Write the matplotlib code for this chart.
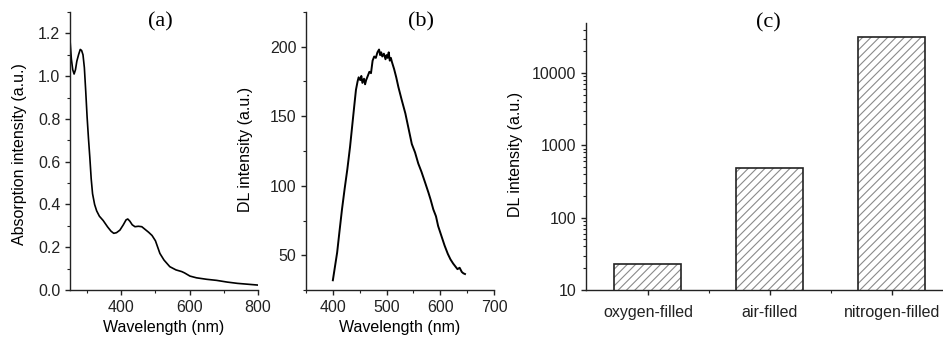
import numpy as np
import matplotlib
matplotlib.use("Agg")
import matplotlib.pyplot as plt
from matplotlib.ticker import MultipleLocator, LogLocator, FixedLocator, NullFormatter

plt.rcParams['font.family'] = ['Liberation Sans', 'DejaVu Sans']
plt.rcParams['hatch.linewidth'] = 0.8

# (a) absorption spectrum
abs_wl = [250, 254, 258, 262, 266, 270, 275, 280, 284, 288, 292, 296, 300, 304, 308,
          312, 316, 322, 328, 336, 347, 360, 370, 378, 386, 396, 406, 414, 419, 425,
          432, 440, 450, 460, 470, 480, 490, 500, 513, 525, 542, 560, 577, 585, 601,
          620, 650, 679, 710, 740, 770, 800]
abs_val = [1.17, 1.08, 1.03, 1.01, 1.03, 1.07, 1.10, 1.125, 1.12, 1.10, 1.04, 0.93, 0.81, 0.71, 0.62,
           0.52, 0.45, 0.40, 0.37, 0.345, 0.325, 0.295, 0.275, 0.265, 0.268, 0.28, 0.305, 0.328, 0.332, 0.322,
           0.305, 0.296, 0.298, 0.296, 0.283, 0.27, 0.255, 0.23, 0.171, 0.14, 0.109, 0.094, 0.086, 0.08, 0.065,
           0.057, 0.05, 0.045, 0.037, 0.031, 0.027, 0.023]

# (b) DL spectrum
dl_wl = [400, 404, 408, 412, 417, 422, 427, 432, 436, 440, 443, 446, 448, 451, 453, 455, 458, 460, 462,
         465, 468, 471, 474, 477, 480, 483, 486, 488, 490, 492, 495, 498, 500, 502, 504, 506, 508, 510,
         514, 518, 522, 528, 535, 541, 547, 553, 559, 565, 572, 578, 582, 587, 592, 596, 602, 608, 614,
         619, 624, 628, 632, 636, 640, 643, 646]
dl_val = [32, 42, 52, 66, 83, 98, 112, 128, 143, 158, 169, 175, 178, 176, 179, 174, 177, 173, 176,
          179, 182, 181, 190, 193, 192, 196, 198, 194, 196, 193, 195, 191, 194, 192, 196, 190, 192, 189,
          184, 178, 171, 162, 152, 141, 130, 124, 116, 110, 102, 95, 90, 83, 78, 71, 64, 57, 51,
          47, 44, 42, 40, 41, 38, 37, 36.5]

# (c) DL intensity per gas
gases = ['oxygen-filled', 'air-filled', 'nitrogen-filled']
dl_gas = [22.7, 485, 31900]

fig = plt.figure(figsize=(9.43, 3.39), dpi=100)

tick_fs = 11.5
label_fs = 11.5
title_font = dict(family='Liberation Serif', fontsize=16)

def style_axes(ax):
    for side in ['top', 'right']:
        ax.spines[side].set_visible(False)
    for side in ['left', 'bottom']:
        ax.spines[side].set_linewidth(1.0)
        ax.spines[side].set_color('#222222')
    ax.tick_params(which='major', direction='out', length=3.5, width=1.0,
                   labelsize=tick_fs, colors='#222222', pad=3.5)
    ax.tick_params(which='minor', direction='out', length=2.5, width=0.8, colors='#222222')

# panel (a)
ax1 = fig.add_axes([70/943, 49/339, 188/943, 278/339])
ax1.plot(abs_wl, abs_val, color='black', lw=1.2)
ax1.set_xlim(250, 800)
ax1.set_ylim(0, 1.3)
ax1.xaxis.set_major_locator(FixedLocator([400, 600, 800]))
ax1.xaxis.set_minor_locator(FixedLocator([300, 500, 700]))
ax1.yaxis.set_major_locator(MultipleLocator(0.2))
ax1.yaxis.set_minor_locator(MultipleLocator(0.1))
ax1.yaxis.set_major_formatter(plt.FormatStrFormatter('%.1f'))
style_axes(ax1)
ax1.set_xlabel('Wavelength (nm)', fontsize=label_fs)
ax1.set_ylabel('Absorption intensity (a.u.)', fontsize=label_fs)
ax1.yaxis.set_label_coords(-0.229, 0.49)
ax1.xaxis.set_label_coords(0.5, -0.108)
ax1.text(0.48, 0.965, '(a)', transform=ax1.transAxes, ha='center', va='center', **title_font)

# panel (b)
ax2 = fig.add_axes([306/943, 49/339, 188/943, 278/339])
ax2.plot(dl_wl, dl_val, color='black', lw=1.4)
ax2.set_xlim(350, 700)
ax2.set_ylim(25, 225)
ax2.xaxis.set_major_locator(FixedLocator([400, 500, 600, 700]))
ax2.xaxis.set_minor_locator(FixedLocator([350, 450, 550, 650]))
ax2.yaxis.set_major_locator(FixedLocator([50, 100, 150, 200]))
ax2.yaxis.set_minor_locator(FixedLocator([25, 75, 125, 175, 225]))
style_axes(ax2)
ax2.set_xlabel('Wavelength (nm)', fontsize=label_fs)
ax2.set_ylabel('DL intensity (a.u.)', fontsize=label_fs)
ax2.yaxis.set_label_coords(-0.282, 0.507)
ax2.xaxis.set_label_coords(0.5, -0.108)
ax2.text(0.61, 0.965, '(b)', transform=ax2.transAxes, ha='center', va='center', **title_font)

# panel (c)
ax3 = fig.add_axes([586/943, 49/339, 357/943, 266.7/339])
xpos = np.arange(len(gases))
ax3.bar(xpos, dl_gas, width=0.55, color='white', edgecolor='#8a8a8a',
        hatch='////', linewidth=0, zorder=2)
ax3.bar(xpos, dl_gas, width=0.55, fill=False, edgecolor='#222222',
        linewidth=1.2, zorder=3)
ax3.set_yscale('log')
ax3.set_ylim(10, 49000)
ax3.set_xlim(-0.508, 2.42)
ax3.set_xticks(xpos)
ax3.set_xticklabels(gases)
ax3.xaxis.set_minor_locator(FixedLocator([0.5, 1.5]))
ax3.yaxis.set_major_locator(FixedLocator([10, 100, 1000, 10000]))
ax3.yaxis.set_major_formatter(plt.FuncFormatter(lambda v, p: '%d' % v))
ax3.yaxis.set_minor_locator(LogLocator(base=10, subs=np.arange(2, 10)))
ax3.yaxis.set_minor_formatter(NullFormatter())
style_axes(ax3)
ax3.tick_params(axis='x', which='major', pad=7)
ax3.set_ylabel('DL intensity (a.u.)', fontsize=label_fs)
ax3.yaxis.set_label_coords(-0.176, 0.51)
ax3.text(0.51, 1.0, '(c)', transform=ax3.transAxes, ha='center', va='center', **title_font)

fig.savefig('out.png', dpi=100)
